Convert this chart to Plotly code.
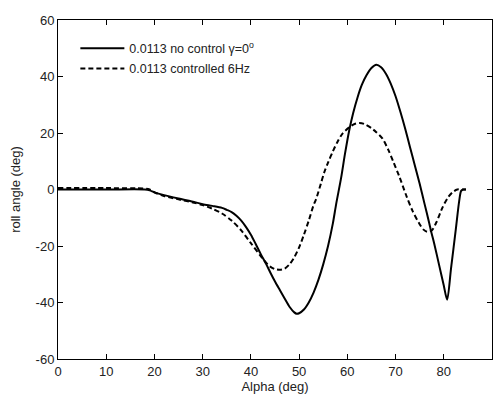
import plotly.graph_objects as go

alpha_solid = [0, 10, 18, 19, 20, 22, 25, 28, 30, 32, 34, 35, 36, 37, 38, 39, 40, 41, 42, 43.2, 44, 45, 46, 47, 48, 49,
               49.5, 50, 51, 52, 53, 54, 55, 56, 57, 57.7, 58.7, 59.5, 60.4, 61.2, 62.1, 63, 64, 65, 66, 67, 68, 69,
               70, 71, 72, 73, 74, 75, 76, 77, 77.4, 78, 79, 80, 80.7, 81.5, 82.5, 83.2, 83.6, 84, 84.6]
roll_solid = [0, 0, 0, -0.3, -1, -2, -3.2, -4.3, -5.2, -5.8, -6.5, -7.2, -8, -9.3, -11, -13.3, -16, -19.3, -22.7, -26.5,
              -29.3, -32.6, -35.6, -38.6, -41.5, -43.5, -44, -43.8, -42.5, -40, -36.5, -32, -26.5, -20, -12, -5, 4,
              12.5, 21, 27, 32.5, 37, 40.5, 43, 44.2, 43.3, 41, 37.5, 33, 27.5, 21.5, 15, 8.5, 2, -5, -12, -15,
              -19, -26.5, -34, -39, -28, -14, -4, -0.5, 0, 0]

alpha_dash = [0, 10, 18, 19, 20, 22, 25, 28, 30, 32, 34, 36, 38, 40, 42, 43.2, 44, 45, 46, 47, 48, 49, 50, 51, 52, 53,
              53.5, 54.5, 55.2, 56, 57, 58, 59, 60.4, 61.5, 62.5, 63.5, 65, 66, 67.3, 68.5, 69.5, 70.8, 72.3, 73.5,
              74.9, 75.8, 76.6, 77.5, 78.5, 79.7, 80.8, 81.8, 82.8, 84, 84.6]
roll_dash = [0.5, 0.5, 0.3, 0, -1, -2.3, -3.5, -4.6, -5.5, -6.8, -8.5, -11, -14.5, -19, -23.5, -26, -27.3, -28.2, -28.4,
             -28, -26.5, -24, -20.5, -16, -11, -5.5, -3.5, 2, 6, 9.5, 13.5, 17, 19.8, 22, 23.2, 23.5, 23.2, 21.7, 20.3,
             18, 14, 10, 4.5, -2.5, -7.5, -12, -14.2, -15, -14.5, -11.5, -6.5, -3, -1, 0, 0, 0]

x_ticks = [0, 10, 20, 30, 40, 50, 60, 70, 80, 90]
y_ticks = [-60, -40, -20, 0, 20, 40, 60]

name_solid = "0.0113 no control γ=0<sup>o</sup>"
name_dash = "0.0113 controlled 6Hz"

FONT = "Liberation Sans, Arial, sans-serif"

fig = go.Figure()
fig.add_trace(go.Scatter(x=alpha_solid, y=roll_solid, mode="lines", name=name_solid, legendgroup="a",
                         line=dict(color="black", width=2, shape="spline", smoothing=0.8)))
fig.add_trace(go.Scatter(x=alpha_dash, y=roll_dash, mode="lines", name=name_dash, legendgroup="b",
                         line=dict(color="black", width=2, dash="5px,3px", shape="spline", smoothing=0.8)))

axis_common = dict(showline=True, linecolor="black", linewidth=1, mirror="ticks", ticks="inside", ticklen=5,
                   tickcolor="black", showgrid=False, zeroline=False,
                   tickfont=dict(family=FONT, size=13, color="#222"))

fig.update_layout(
    width=499, height=396,
    margin=dict(l=58, r=6, t=20, b=34),
    paper_bgcolor="white", plot_bgcolor="white",
    font=dict(family=FONT, size=13, color="#222"),
    xaxis=dict(range=[0, 90], tickvals=x_ticks, ticktext=[str(v) for v in x_ticks],
               title=dict(text="Alpha (deg)", standoff=2, font=dict(family=FONT, size=13)), **axis_common),
    yaxis=dict(range=[-60, 60], tickvals=y_ticks, ticktext=[str(v) for v in y_ticks],
               title=dict(text="roll angle (deg)", standoff=12, font=dict(family=FONT, size=13)), **axis_common),
    legend=dict(x=0.04, y=0.96, xanchor="left", yanchor="top", bgcolor="rgba(0,0,0,0)",
                borderwidth=0, font=dict(family=FONT, size=12.5, color="#222"),
                tracegroupgap=1, traceorder="grouped", itemwidth=44),
    showlegend=True,
)

fig.write_html("out.html")
